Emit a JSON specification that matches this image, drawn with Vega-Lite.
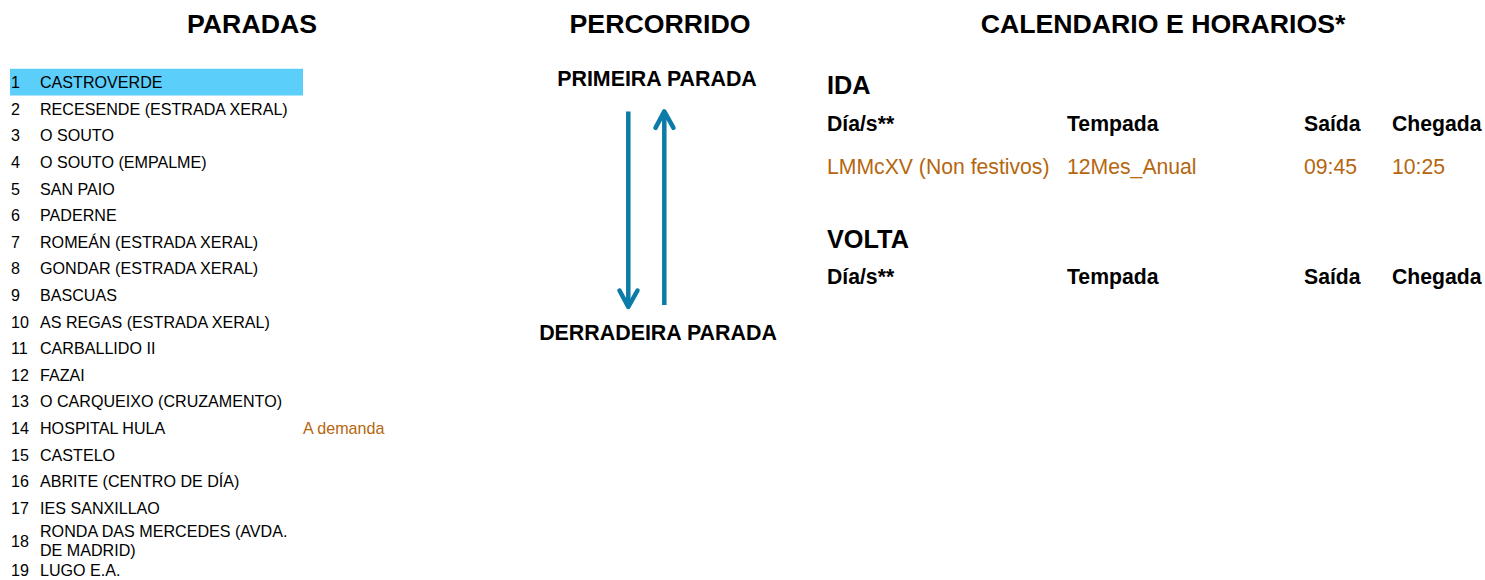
{
  "$schema": "https://vega.github.io/schema/vega-lite/v6.json",
  "width": 1485,
  "height": 580,
  "padding": 0,
  "autosize": {"type": "fit", "contains": "padding"},
  "config": {"view": {"stroke": null}, "text": {"font": "Liberation Sans"}},
  "datasets": {
    "titles": [
      {"text": "PARADAS", "x": 252, "y": 24.8},
      {"text": "PERCORRIDO", "x": 660, "y": 24.8},
      {"text": "CALENDARIO E HORARIOS*", "x": 1163, "y": 24.8}
    ],
    "highlight": [{"x": 10, "x2": 303, "y": 69, "y2": 96}],
    "stops": [
      {"n": "1", "name": "CASTROVERDE", "y": 83.5, "yName": 83.5},
      {"n": "2", "name": "RECESENDE (ESTRADA XERAL)", "y": 110.25, "yName": 110.25},
      {"n": "3", "name": "O SOUTO", "y": 137, "yName": 137},
      {"n": "4", "name": "O SOUTO (EMPALME)", "y": 163.75, "yName": 163.75},
      {"n": "5", "name": "SAN PAIO", "y": 190.5, "yName": 190.5},
      {"n": "6", "name": "PADERNE", "y": 217.25, "yName": 217.25},
      {"n": "7", "name": "ROMEÁN (ESTRADA XERAL)", "y": 244, "yName": 244},
      {"n": "8", "name": "GONDAR (ESTRADA XERAL)", "y": 270.75, "yName": 270.75},
      {"n": "9", "name": "BASCUAS", "y": 297.5, "yName": 297.5},
      {"n": "10", "name": "AS REGAS (ESTRADA XERAL)", "y": 324.25, "yName": 324.25},
      {"n": "11", "name": "CARBALLIDO II", "y": 351, "yName": 351},
      {"n": "12", "name": "FAZAI", "y": 377.75, "yName": 377.75},
      {"n": "13", "name": "O CARQUEIXO (CRUZAMENTO)", "y": 404.5, "yName": 404.5},
      {"n": "14", "name": "HOSPITAL HULA", "y": 431.25, "yName": 431.25},
      {"n": "15", "name": "CASTELO", "y": 458, "yName": 458},
      {"n": "16", "name": "ABRITE (CENTRO DE DÍA)", "y": 484.75, "yName": 484.75},
      {"n": "17", "name": "IES SANXILLAO", "y": 511.5, "yName": 511.5},
      {"n": "18", "name": "RONDA DAS MERCEDES (AVDA.\nDE MADRID)", "y": 544.5, "yName": 535},
      {"n": "19", "name": "LUGO E.A.", "y": 574, "yName": 574}
    ],
    "notes": [{"text": "A demanda", "x": 303, "y": 431.25}],
    "route": [
      {"text": "PRIMEIRA PARADA", "x": 657, "y": 80},
      {"text": "DERRADEIRA PARADA", "x": 658, "y": 335.3}
    ],
    "shafts": [
      {"arrow": "down", "o": 0, "x": 628.3, "y": 112},
      {"arrow": "down", "o": 1, "x": 628.3, "y": 306},
      {"arrow": "up", "o": 0, "x": 664.3, "y": 306.7},
      {"arrow": "up", "o": 1, "x": 664.3, "y": 114}
    ],
    "heads": [
      {"arrow": "down", "o": 0, "x": 619.5, "y": 292},
      {"arrow": "down", "o": 1, "x": 628.3, "y": 308.5},
      {"arrow": "down", "o": 2, "x": 637.5, "y": 292},
      {"arrow": "up", "o": 0, "x": 655.5, "y": 128.5},
      {"arrow": "up", "o": 1, "x": 664.3, "y": 112},
      {"arrow": "up", "o": 2, "x": 673.5, "y": 128.5}
    ],
    "sections": [
      {"text": "IDA", "x": 827, "y": 86.5},
      {"text": "VOLTA", "x": 827, "y": 241}
    ],
    "headers": [
      {"text": "Día/s**", "x": 827, "y": 125.7},
      {"text": "Tempada", "x": 1067, "y": 125.7},
      {"text": "Saída", "x": 1304, "y": 125.7},
      {"text": "Chegada", "x": 1392, "y": 125.7},
      {"text": "Día/s**", "x": 827, "y": 279.9},
      {"text": "Tempada", "x": 1067, "y": 279.9},
      {"text": "Saída", "x": 1304, "y": 279.9},
      {"text": "Chegada", "x": 1392, "y": 279.9}
    ],
    "schedule": [
      {"text": "LMMcXV (Non festivos)", "x": 827, "y": 168.9},
      {"text": "12Mes_Anual", "x": 1067, "y": 168.9},
      {"text": "09:45", "x": 1304, "y": 168.9},
      {"text": "10:25", "x": 1392, "y": 168.9}
    ]
  },
  "layer": [
    {
      "data": {"name": "highlight"},
      "mark": {"type": "rect", "color": "#5ccefa"},
      "encoding": {
        "x": {"field": "x", "type": "quantitative", "scale": {"domain": [0, 1485], "nice": false, "zero": false}, "axis": null},
        "x2": {"field": "x2"},
        "y": {"field": "y", "type": "quantitative", "scale": {"domain": [0, 580], "nice": false, "zero": false, "reverse": true}, "axis": null},
        "y2": {"field": "y2"}
      }
    },
    {
      "data": {"name": "titles"},
      "mark": {"type": "text", "align": "center", "baseline": "middle", "fontSize": 26.7, "fontWeight": "bold", "color": "#000000"},
      "encoding": {
        "x": {"field": "x", "type": "quantitative", "axis": null},
        "y": {"field": "y", "type": "quantitative", "axis": null},
        "text": {"field": "text"}
      }
    },
    {
      "data": {"name": "stops"},
      "mark": {"type": "text", "align": "left", "baseline": "middle", "fontSize": 16.1, "color": "#000000"},
      "encoding": {
        "x": {"datum": 11, "type": "quantitative", "axis": null},
        "y": {"field": "y", "type": "quantitative", "axis": null},
        "text": {"field": "n"}
      }
    },
    {
      "data": {"name": "stops"},
      "mark": {"type": "text", "align": "left", "baseline": "middle", "fontSize": 16.1, "color": "#000000", "lineBreak": "\n", "lineHeight": 19},
      "encoding": {
        "x": {"datum": 40, "type": "quantitative", "axis": null},
        "y": {"field": "yName", "type": "quantitative", "axis": null},
        "text": {"field": "name"}
      }
    },
    {
      "data": {"name": "notes"},
      "mark": {"type": "text", "align": "left", "baseline": "middle", "fontSize": 16.1, "color": "#b5660f"},
      "encoding": {
        "x": {"field": "x", "type": "quantitative", "axis": null},
        "y": {"field": "y", "type": "quantitative", "axis": null},
        "text": {"field": "text"}
      }
    },
    {
      "data": {"name": "route"},
      "mark": {"type": "text", "align": "center", "baseline": "middle", "fontSize": 21.4, "fontWeight": "bold", "color": "#000000"},
      "encoding": {
        "x": {"field": "x", "type": "quantitative", "axis": null},
        "y": {"field": "y", "type": "quantitative", "axis": null},
        "text": {"field": "text"}
      }
    },
    {
      "data": {"name": "shafts"},
      "mark": {"type": "line", "color": "#0b7ba8", "strokeWidth": 4.5, "strokeCap": "butt"},
      "encoding": {
        "x": {"field": "x", "type": "quantitative", "axis": null},
        "y": {"field": "y", "type": "quantitative", "axis": null},
        "detail": {"field": "arrow"},
        "order": {"field": "o"}
      }
    },
    {
      "data": {"name": "heads"},
      "mark": {"type": "line", "color": "#0b7ba8", "strokeWidth": 4.5, "strokeCap": "round", "strokeJoin": "round"},
      "encoding": {
        "x": {"field": "x", "type": "quantitative", "axis": null},
        "y": {"field": "y", "type": "quantitative", "axis": null},
        "detail": {"field": "arrow"},
        "order": {"field": "o"}
      }
    },
    {
      "data": {"name": "sections"},
      "mark": {"type": "text", "align": "left", "baseline": "middle", "fontSize": 25.3, "fontWeight": "bold", "color": "#000000"},
      "encoding": {
        "x": {"field": "x", "type": "quantitative", "axis": null},
        "y": {"field": "y", "type": "quantitative", "axis": null},
        "text": {"field": "text"}
      }
    },
    {
      "data": {"name": "headers"},
      "mark": {"type": "text", "align": "left", "baseline": "middle", "fontSize": 21.2, "fontWeight": "bold", "color": "#000000"},
      "encoding": {
        "x": {"field": "x", "type": "quantitative", "axis": null},
        "y": {"field": "y", "type": "quantitative", "axis": null},
        "text": {"field": "text"}
      }
    },
    {
      "data": {"name": "schedule"},
      "mark": {"type": "text", "align": "left", "baseline": "middle", "fontSize": 21.2, "color": "#b5660f"},
      "encoding": {
        "x": {"field": "x", "type": "quantitative", "axis": null},
        "y": {"field": "y", "type": "quantitative", "axis": null},
        "text": {"field": "text"}
      }
    }
  ]
}
